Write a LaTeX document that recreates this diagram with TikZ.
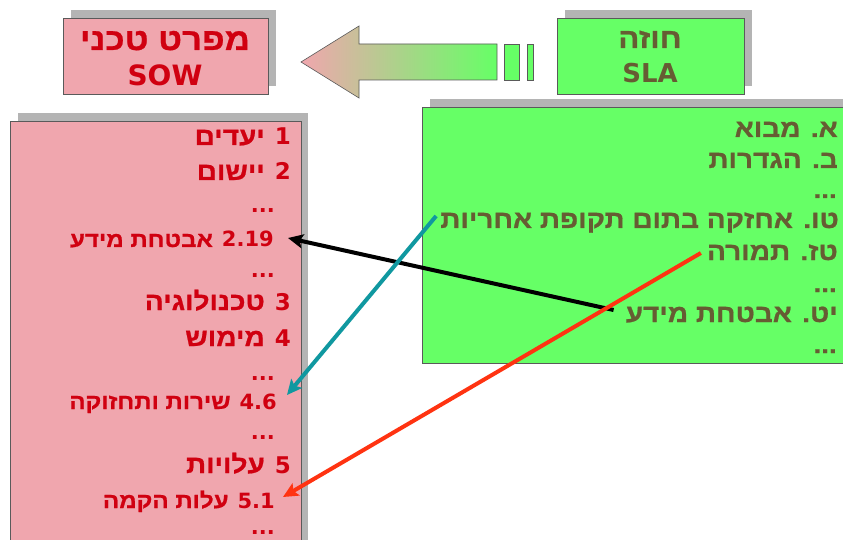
\documentclass[tikz,border=0pt]{standalone}
\usepackage{fontspec}
\usetikzlibrary{arrows.meta}
\TeXXeTstate=1
\newfontfamily\hb[Script=Hebrew, FakeBold=0.8, FakeStretch=1.12]{Liberation Sans}
\newfontfamily\widesans{DejaVu Sans}
% numbers and Latin words are set in a wider sans
\newcommand{\numpart}[2]{{\widesans\bfseries\fontsize{#1}{#1}\selectfont #2}}

\definecolor{pinkfill}{RGB}{240,166,174}
\definecolor{redtext}{RGB}{208,0,16}
\definecolor{greenfill}{RGB}{102,255,102}
\definecolor{olivetext}{RGB}{102,92,51}
\definecolor{shadowgray}{RGB}{180,180,180}
\definecolor{boxline}{RGB}{90,90,90}
\definecolor{tealarrow}{RGB}{16,152,160}
\definecolor{redarrow}{RGB}{255,51,17}

\tikzset{
  shadowbox/.style={fill=shadowgray, draw=none},
  pinkbox/.style={fill=pinkfill, draw=boxline, line width=0.8pt},
  greenbox/.style={fill=greenfill, draw=boxline, line width=0.8pt},
  txt/.style={inner sep=0pt, anchor=base east},
  headtxt/.style={txt, text=redtext, font=\hb\bfseries\fontsize{25}{25}\selectfont},
  subtxt/.style={txt, text=redtext, font=\hb\bfseries\fontsize{21.5}{21.5}\selectfont},
  dotstxt/.style={txt, text=redtext, font=\widesans\bfseries\fontsize{21}{21}\selectfont},
  contxt/.style={txt, text=olivetext, font=\hb\bfseries\fontsize{25}{25}\selectfont},
  titletxt/.style={inner sep=0pt, anchor=base},
  link/.style={line width=4pt, -{Stealth[length=15pt,width=14pt,inset=3pt]}},
}

\begin{document}
\begin{tikzpicture}[x=1pt, y=-1pt]
\clip (0,0) rectangle (843,540);
\fill[white] (0,0) rectangle (843,540);

% title boxes with their shadows
\fill[shadowbox] (71,10) rectangle (276,86);
\draw[pinkbox] (63,18) rectangle (268,94);
\fill[shadowbox] (565,10) rectangle (752,86);
\draw[greenbox] (557,18) rectangle (744,94);

\node[titletxt, text=redtext, font=\hb\bfseries\fontsize{31}{31}\selectfont] (sowh) at (165,50) {\beginR מפרט טכני\endR};
\node[titletxt, text=redtext, font=\widesans\bfseries\fontsize{28}{28}\selectfont] (sow) at (165,86) {SOW};
\node[titletxt, text=olivetext, font=\hb\bfseries\fontsize{28}{28}\selectfont] (slah) at (650,48) {\beginR חוזה\endR};
\node[titletxt, text=olivetext, font=\widesans\bfseries\fontsize{26}{26}\selectfont] (sla) at (650,83) {SLA};

% big arrow from the contract to the specification
\shade[left color=pinkfill, right color=greenfill, draw=boxline, line width=0.6pt]
  (301,62) -- (359,26) -- (359,44) -- (497,44) -- (497,80) -- (359,80) -- (359,98) -- cycle;
\draw[greenbox, line width=0.6pt] (504,44) rectangle (519,80);
\draw[greenbox, line width=0.6pt] (527,44) rectangle (533,80);

% contents boxes
\fill[shadowbox] (18,113) rectangle (308,560);
\draw[pinkbox] (10,121) rectangle (301,570);
\fill[shadowbox] (430,99) rectangle (860,355);
\draw[greenbox] (422,107) rectangle (870,363);

% specification contents
\node[headtxt] (p1)   at (291,145) {\beginR\beginL\numpart{23}{1}\endL\kern10pt יעדים\endR};
\node[headtxt] (p2)   at (291,180) {\beginR\beginL\numpart{23}{2}\endL\kern10pt יישום\endR};
\node[dotstxt] (pd1)  at (275,213) {...};
\node[subtxt]  (s219) at (274,247) {\beginR\beginL\numpart{21}{2.19}\endL\kern9pt אבטחת מידע\endR};
\node[dotstxt] (pd2)  at (275,277) {...};
\node[headtxt] (p3)   at (291,310) {\beginR\beginL\numpart{23}{3}\endL\kern10pt טכנולוגיה\endR};
\node[headtxt] (p4)   at (291,346) {\beginR\beginL\numpart{23}{4}\endL\kern10pt מימוש\endR};
\node[dotstxt] (pd3)  at (275,380) {...};
\node[subtxt]  (s46)  at (277,409) {\beginR\beginL\numpart{21}{4.6}\endL\kern9pt שירות ותחזוקה\endR};
\node[dotstxt] (pd4)  at (275,439) {...};
\node[headtxt] (p5)   at (291,473) {\beginR\beginL\numpart{23}{5}\endL\kern10pt עלויות\endR};
\node[subtxt]  (s51)  at (275,508) {\beginR\beginL\numpart{21}{5.1}\endL\kern9pt עלות הקמה\endR};
\node[dotstxt] (pd5)  at (275,534) {...};

% contract contents
\node[contxt] (ca)  at (838,137) {\beginR א. מבוא\endR};
\node[contxt] (cb)  at (838,168) {\beginR ב. הגדרות\endR};
\node[contxt] (cd1) at (837,198) {...};
\node[contxt] (tw)  at (839,228) {\beginR טו. אחזקה בתום תקופת אחריות\endR};
\node[contxt] (tz)  at (838,260) {\beginR טז. תמורה\endR};
\node[contxt] (cd2) at (837,292) {...};
\node[contxt] (yt)  at (838,322) {\beginR יט. אבטחת מידע\endR};
\node[contxt] (cd3) at (837,353) {...};

% links between matching sections
\draw[link, black]      ([xshift=-12pt,yshift=12pt]yt.base west) -- ([xshift=14pt,yshift=9pt]s219.base east);
\draw[link, tealarrow]  ([xshift=-4pt,yshift=12pt]tw.base west)  -- ([xshift=10pt,yshift=14pt]s46.base east);
\draw[link, redarrow]   ([xshift=-6pt,yshift=7pt]tz.base west)   -- ([xshift=8pt,yshift=11pt]s51.base east);
\end{tikzpicture}
\end{document}
